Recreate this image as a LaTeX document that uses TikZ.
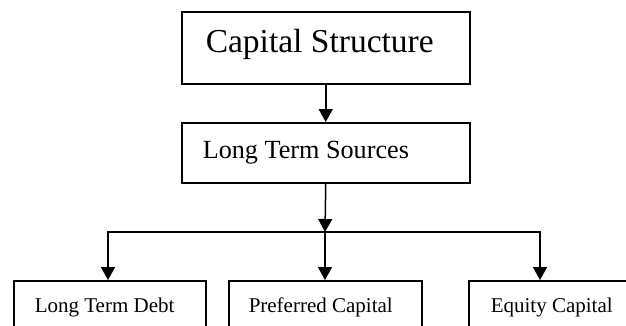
\documentclass[tikz,border=0pt]{standalone}
\usepackage{fontspec}
\setmainfont{Liberation Serif}
\usetikzlibrary{arrows.meta}
\tikzset{
  box/.style={draw=black, line width=1.5pt, inner ysep=0pt, align=flush left, anchor=north west},
  conn/.style={draw=black, line width=1.5pt},
  arr/.style={conn, -{Triangle[width=14pt,length=13pt]}}
}
\begin{document}
\begin{tikzpicture}[x=1pt,y=-1pt]
\useasboundingbox (0,0) rectangle (626,325);
\clip (0,0) rectangle (626,325);
% top box: 181-469 x, 11-83 y, baseline 52
\node[box, inner xsep=24pt, text width=240pt, text height=41pt, text depth=31pt,
      font=\fontsize{33.5}{40}\selectfont] (cs) at (181,11) {Capital Structure};
% second box: 181-469 x, 122-182 y, baseline 158
\node[box, inner xsep=21pt, text width=246pt, text height=36pt, text depth=24pt,
      font=\fontsize{26.2}{31}\selectfont] (lts) at (181,122) {Long Term Sources};
% bottom boxes, top 280, baseline 312
\node[box, inner xsep=21pt, text width=150pt, text height=32pt, text depth=30pt,
      font=\fontsize{21}{25}\selectfont] (ltd) at (13,280) {Long Term Debt};
\node[box, inner xsep=20pt, text width=153pt, text height=32pt, text depth=30pt,
      font=\fontsize{21}{25}\selectfont] (pc) at (228,280) {Preferred Capital};
\node[box, inner xsep=22pt, text width=220pt, text height=32pt, text depth=30pt,
      font=\fontsize{21}{25}\selectfont] (ec) at (468,280) {Equity Capital};
\coordinate (j) at (325,232);
\coordinate (ltdin) at (108,280);
\coordinate (ecin) at (540,280);
\draw[arr] (cs.south) -- (lts.north);
\draw[arr] (lts.south) -- (j);
\draw[arr] (j) -- (j |- pc.north);
\draw[arr] (j) -| (ltdin);
\draw[arr] (j) -| (ecin);
\end{tikzpicture}
\end{document}
